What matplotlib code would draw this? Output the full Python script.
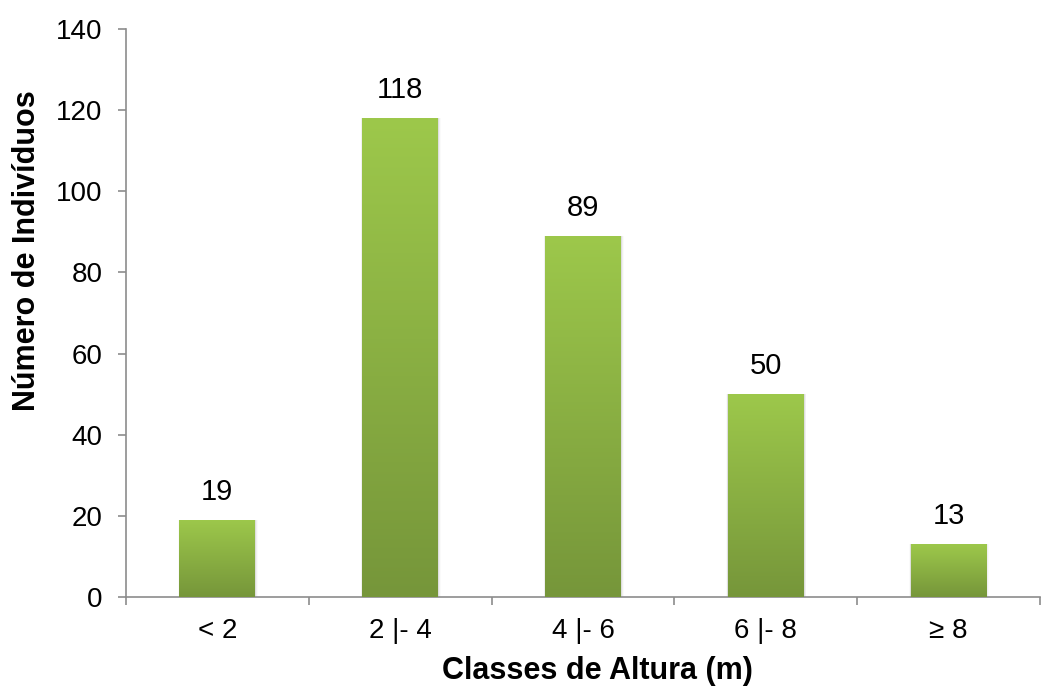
import numpy as np
import matplotlib.pyplot as plt
from matplotlib.colors import LinearSegmentedColormap

plt.rcParams['font.family'] = ['Liberation Sans', 'DejaVu Sans']

classes = ['< 2', '2 |- 4', '4 |- 6', '6 |- 8', '≥ 8']
individuos = [19, 118, 89, 50, 13]

axis_grey = '#8c8c8c'
green_grad = LinearSegmentedColormap.from_list('verde', ['#76963a', '#9dc84b'])

fig = plt.figure(figsize=(10.55, 6.87), dpi=100)
ax = fig.add_axes([0.1194, 0.131, 0.8664, 0.827])

x = np.arange(len(classes))
width = 0.415
bars = ax.bar(x, individuos, width=width, color='none', zorder=3)

# vertical gradient inside each bar, with a faint shadow along the sides
grad = np.linspace(0, 1, 256).reshape(-1, 1)
for rect, val in zip(bars, individuos):
    x0 = rect.get_x()
    for k, a in enumerate([0.07, 0.04, 0.02]):
        off = 0.005 * (k + 1)
        ax.add_patch(plt.Rectangle((x0 - off * 0.5, 0), width + off * 1.5, val,
                                   color='black', alpha=a, lw=0, zorder=2))
    im = ax.imshow(grad, cmap=green_grad, origin='lower', aspect='auto',
                   extent=(x0, x0 + width, 0, val), zorder=3)
    im.set_clip_path(rect)
    ax.text(rect.get_x() + width / 2, val + 3.4, str(val), ha='center', va='bottom',
            fontsize=21)

ax.set_xlim(-0.5, len(classes) - 0.5)
ax.set_ylim(0, 140)
ax.set_yticks(range(0, 141, 20))
ax.set_xticks(x)
ax.set_xticklabels(classes)
ax.set_xticks(np.arange(-0.5, len(classes), 1), minor=True)

for side in ['top', 'right']:
    ax.spines[side].set_visible(False)
for side in ['left', 'bottom']:
    ax.spines[side].set_color(axis_grey)
    ax.spines[side].set_linewidth(1.2)

ax.tick_params(axis='y', colors=axis_grey, labelcolor='black', labelsize=20,
               length=6, width=1.2, pad=11)
ax.tick_params(axis='x', which='major', length=0, labelsize=20, pad=15)
ax.tick_params(axis='x', which='minor', colors=axis_grey, length=6, width=1.2)

ax.set_xlabel('Classes de Altura (m)', fontsize=22, fontweight='bold')
ax.set_ylabel('Número de Indivíduos', fontsize=22, fontweight='bold')
ax.xaxis.set_label_coords(0.516, -0.13, transform=ax.transAxes)
ax.yaxis.set_label_coords(-0.108, 0.61, transform=ax.transAxes)
ax.xaxis.label.set_va('center')
ax.yaxis.label.set_va('center')

fig.savefig('out.png', dpi=100)
